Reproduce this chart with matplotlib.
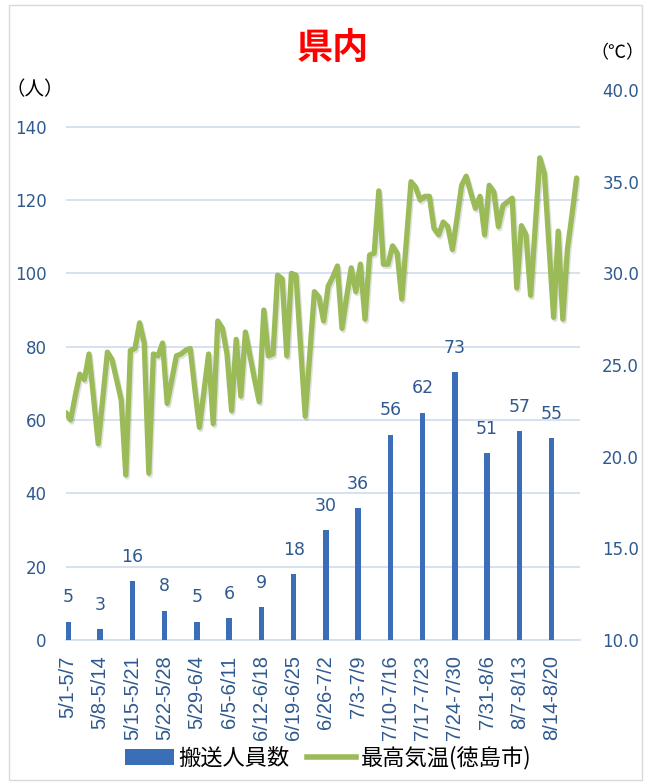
import numpy as np
import matplotlib
matplotlib.use("Agg")
import matplotlib.pyplot as plt
import matplotlib.patheffects as pe
from matplotlib.patches import Rectangle, Patch
from matplotlib.lines import Line2D

plt.rcParams['font.family'] = ['DejaVu Sans', 'Noto Sans CJK JP']

# 週ごとの搬送人員数
weeks = ['5/1-5/7', '5/8-5/14', '5/15-5/21', '5/22-5/28', '5/29-6/4', '6/5-6/11',
         '6/12-6/18', '6/19-6/25', '6/26-7/2', '7/3-7/9', '7/10-7/16', '7/17-7/23',
         '7/24-7/30', '7/31-8/6', '8/7-8/13', '8/14-8/20']
transported = [5, 3, 16, 8, 5, 6, 9, 18, 30, 36, 56, 62, 73, 51, 57, 55]

# 日ごとの最高気温 (徳島市) 5/1 - 8/20
max_temp = [22.4, 22.0, 23.3, 24.5, 24.2, 25.6, 23.2, 20.7, 23.2, 25.7,
            25.3, 24.2, 23.1, 19.0, 25.8, 25.9, 27.3, 26.2, 19.1, 25.6,
            25.5, 26.2, 22.9, 24.2, 25.5, 25.6, 25.8, 25.9, 23.7, 21.6,
            23.6, 25.6, 21.8, 27.4, 27.0, 25.6, 22.5, 26.4, 23.3, 26.8,
            25.5, 24.2, 23.0, 28.0, 25.5, 25.6, 29.9, 29.7, 25.5, 30.0,
            29.9, 26.0, 22.2, 25.6, 29.0, 28.7, 27.4, 29.3, 29.8, 30.4,
            27.0, 28.7, 30.3, 29.0, 30.5, 27.5, 31.0, 31.1, 34.5, 30.5,
            30.5, 31.5, 31.1, 28.6, 31.8, 35.0, 34.7, 34.0, 34.2, 34.2,
            32.45, 32.1, 32.8, 32.55, 31.3, 33.0, 34.8, 35.3, 34.4, 33.55,
            34.2, 32.1, 34.8, 34.45, 32.55, 33.7, 33.9, 34.1, 29.2, 32.6,
            32.1, 28.8, 32.5, 36.3, 35.45, 31.5, 27.6, 32.3, 27.5, 31.3,
            33.2, 35.2]

temp_ticks = [10, 15, 20, 25, 30, 35, 40]

blue_txt = '#2F5A8E'
bar_col = '#3A6FB7'
green = '#9BBB59'
grid_col = '#D3DEEF'

W, H = 649, 783
fig = plt.figure(figsize=(W / 100, H / 100), dpi=100)

ax = fig.add_axes([66 / W, 1 - 640 / H, (580 - 66) / W, (640 - 90) / H])
x = np.arange(len(weeks))
ax.bar(x, transported, width=0.17, color=bar_col, zorder=3)
ax.set_xlim(-0.06, 15.88)
ax.set_ylim(0, 150)
ax.set_yticks(range(0, 141, 20))
ax.grid(axis='y', color=grid_col, lw=1.3)
ax.set_axisbelow(True)
for s in ['top', 'right', 'left']:
    ax.spines[s].set_visible(False)
ax.spines['bottom'].set_color(grid_col)
ax.spines['bottom'].set_linewidth(1.3)
ax.tick_params(length=0, labelsize=12, labelcolor=blue_txt)
ax.tick_params(axis='y', pad=14)
ax.tick_params(axis='x', pad=11)
ax.set_xticks(x)
ax.set_xticklabels(weeks, rotation=90, fontsize=14.5, family='Liberation Sans')

# バーの上の数値
for xi, v in zip(x, transported):
    ax.annotate(str(v), (xi, v), xytext=(0, 11), textcoords='offset points',
                ha='center', va='bottom', fontsize=12.5, color=blue_txt)

ax2 = ax.twinx()
ax2.set_ylim(10, 40)
ax2.set_yticks(temp_ticks)
ax2.set_yticklabels([f'{t:.1f}' for t in temp_ticks])
ax2.tick_params(length=0, labelsize=12, labelcolor=blue_txt, pad=16)
for s in ax2.spines.values():
    s.set_visible(False)

# 日単位の気温は別のx軸で描く
ax3 = ax2.twiny()
ax3.set_xlim(0, 111.74)
ax3.axis('off')
ax3.plot(np.arange(len(max_temp)), max_temp, color=green, lw=3.8,
         solid_joinstyle='round', solid_capstyle='round',
         path_effects=[pe.SimpleLineShadow(offset=(1.0, -1.5), alpha=0.12), pe.Normal()])

fig.text(333 / W, 1 - 48 / H, '県内', color='#FF0000', fontsize=26, fontweight='bold',
         family='Noto Sans CJK JP', ha='center', va='center')
fig.text(35 / W, 1 - 90 / H, '（人）', fontsize=14, family='Noto Sans CJK JP',
         ha='center', va='center')
fig.text(617 / W, 1 - 53 / H, '（℃）', fontsize=13, family='Noto Sans CJK JP',
         ha='center', va='center')

handles = [Patch(facecolor=bar_col), Line2D([0], [0], color=green, lw=4)]
fig.legend(handles, ['搬送人員数', '最高気温(徳島市)'], loc='center',
           bbox_to_anchor=(328 / W, 1 - 758 / H), ncol=2, frameon=False,
           prop={'family': 'Noto Sans CJK JP', 'size': 16},
           handlelength=2.2, handletextpad=0.2, columnspacing=0.8)

fig.patches.append(Rectangle((9 / W, 3 / H), (642 - 9) / W, (778 - 3) / H,
                             transform=fig.transFigure, fill=False,
                             edgecolor='#D9D9D9', lw=1))

fig.savefig('out.png', dpi=100)
